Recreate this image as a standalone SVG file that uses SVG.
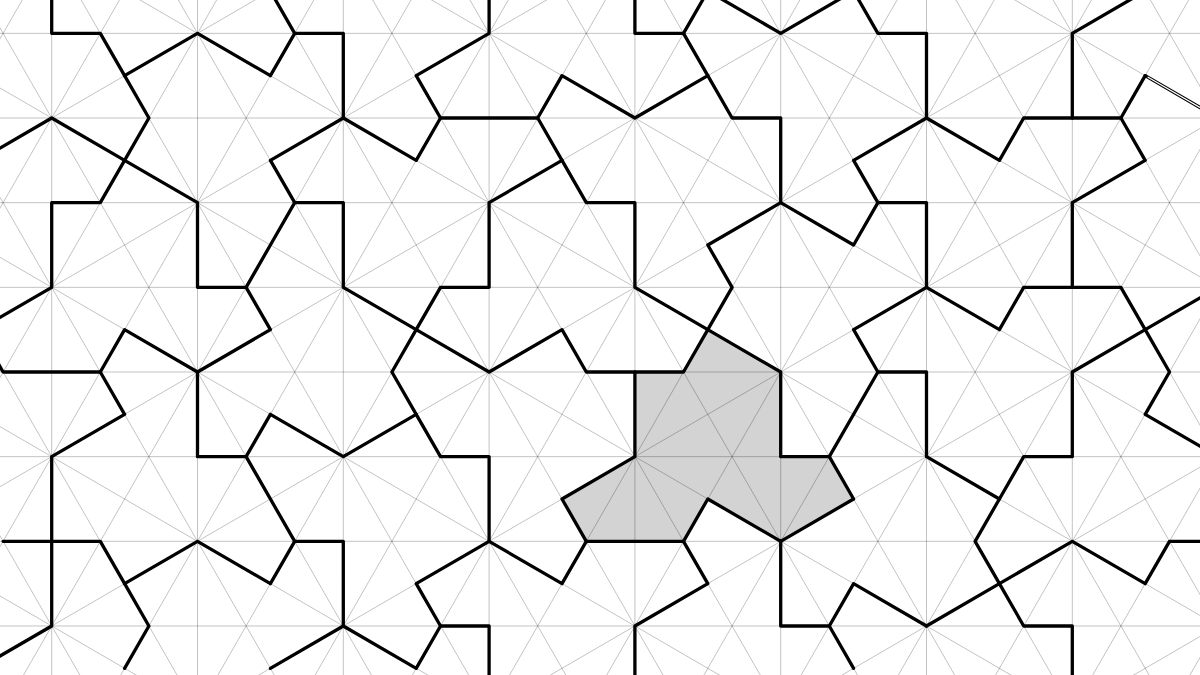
<svg xmlns="http://www.w3.org/2000/svg" width="1200" height="675" viewBox="0 0 1200 675">
<style>
.g{fill:none;stroke:#000;stroke-opacity:.24;stroke-width:1;vector-effect:non-scaling-stroke}
.t{fill:none;stroke:#000;stroke-width:3.3;stroke-linejoin:round;stroke-linecap:round;vector-effect:non-scaling-stroke}
.s{fill:#d3d3d3;stroke:none}
.dw{fill:none;stroke:#fff;stroke-width:1.2;vector-effect:non-scaling-stroke}
</style>
<rect width="1200" height="675" fill="#fff"/>
<g transform="matrix(24.3 0 0 42.33 489.1 372)">
<g id="shaded-tile"><polygon class="s" points="6,0 8,0 9,-1 12,0 12,2 14,2 15,3 12,4 9,3 8,4 4,4 3,3 6,2"/></g>
<g id="grid">
<path class="g" d="M-21 -8H30M-21 -6H30M-21 -4H30M-21 -2H30M-21 0H30M-21 2H30M-21 4H30M-21 6H30
M-18 -10V9M-12 -10V9M-6 -10V9M0 -10V9M6 -10V9M12 -10V9M18 -10V9M24 -10V9
M-34 -10L-15 9M-30 -10L-11 9M-26 -10L-7 9M-22 -10L-3 9M-18 -10L1 9M-14 -10L5 9M-10 -10L9 9M-6 -10L13 9M-2 -10L17 9M2 -10L21 9M6 -10L25 9M10 -10L29 9M14 -10L33 9M18 -10L37 9M22 -10L41 9M26 -10L45 9
M-18 -10L-37 9M-14 -10L-33 9M-10 -10L-29 9M-6 -10L-25 9M-2 -10L-21 9M2 -10L-17 9M6 -10L-13 9M10 -10L-9 9M14 -10L-5 9M18 -10L-1 9M22 -10L3 9M26 -10L7 9M30 -10L11 9M34 -10L15 9M38 -10L19 9M42 -10L23 9M46 -10L27 9M50 -10L31 9
M-66 -10L-9 9M-54 -10L3 9M-42 -10L15 9M-30 -10L27 9M-18 -10L39 9M-6 -10L51 9M6 -10L63 9M18 -10L75 9
M-6 -10L-63 9M6 -10L-51 9M18 -10L-39 9M30 -10L-27 9M42 -10L-15 9M54 -10L-3 9M66 -10L9 9M78 -10L21 9"/>
</g>
<g id="tile-boundaries">
<polygon class="t" points="6,0 8,0 9,-1 12,0 12,2 14,2 15,3 12,4 9,3 8,4 4,4 3,3 6,2"/>
<polyline class="t" points="-18,-10 -18,-8 -16,-8 -15,-7 -14,-6 -15,-5 -16,-4 -18,-4 -18,-2 -21,-1"/>
<polyline class="t" points="-15,-7 -12,-8 -9,-7 -8,-8 -9,-9"/>
<polyline class="t" points="-8,-8 -6,-8 -6,-6 -9,-5 -8,-4 -9,-3 -10,-2 -12,-2 -12,-4 -15,-5 -18,-6 -21,-5"/>
<polyline class="t" points="-8,-4 -6,-4 -6,-2 -3,-1 0,0 3,-1 4,0 6,0"/>
<polyline class="t" points="-6,-6 -3,-5 -2,-6 2,-6 3,-7 6,-6 9,-7 8,-8 6,-8 6,-10"/>
<polyline class="t" points="9,-7 10,-6 12,-6 12,-4 15,-3 16,-4 15,-5 18,-6 18,-8 16,-8 15,-9 12,-8 9,-9 8,-8"/>
<polyline class="t" points="0,-10 0,-8 -3,-7 -2,-6"/>
<polyline class="t" points="2,-6 3,-5 4,-4 6,-4 6,-2 9,-1 10,-2 9,-3 12,-4"/>
<polyline class="t" points="3,-5 0,-4 0,-2 -2,-2 -3,-1 -4,0 -3,1 -2,2 0,2 0,4 3,5 4,4"/>
<polyline class="t" points="16,-4 18,-4 18,-2 15,-1 16,0 18,0 18,2 21,3 22,2 24,2 24,0 27,-1 30,-2"/>
<polyline class="t" points="16,0 14,2"/>
<polyline class="t" points="18,-6 21,-5 22,-6 26,-6 27,-7"/>
<polyline class="t" points="27,-7 30,-6"/>
<polyline class="dw" points="27.1,-6.97 30,-6"/>
<polyline class="t" points="24,-6 24,-8 27,-9"/>
<polyline class="t" points="26,-6 27,-5 24,-4 24,-2"/>
<polyline class="t" points="18,-2 21,-1 22,-2 26,-2 27,-1 28,0 27,1 30,2"/>
<polyline class="t" points="21,3 20,4 21,5 22,6 24,6 24,8"/>
<polyline class="t" points="18,6 21,5 24,4 27,5 28,4 30,4"/>
<polyline class="t" points="12,4 12,6 14,6 15,5 18,6"/>
<polyline class="t" points="14,6 15,7"/>
<polyline class="t" points="8,4 9,5 6,6 6,8"/>
<polyline class="t" points="-9,7 -6,6 -3,7 -2,6 -3,5 0,4"/>
<polyline class="t" points="-2,6 0,6 0,8"/>
<polyline class="t" points="-6,6 -6,4 -8,4 -9,5 -12,4 -15,5 -14,6 -15,7"/>
<polyline class="t" points="-8,4 -10,2 -12,2 -12,0 -15,-1 -16,0 -20,0 -21,-1"/>
<polyline class="t" points="-10,2 -9,1 -6,2 -3,1"/>
<polyline class="t" points="-12,0 -9,-1 -10,-2"/>
<polyline class="t" points="-16,0 -15,1 -18,2 -18,4 -18,6 -21,7"/>
<polyline class="t" points="-20,4 -18,4 -16,4 -15,5"/>
</g>
</g>
</svg>
